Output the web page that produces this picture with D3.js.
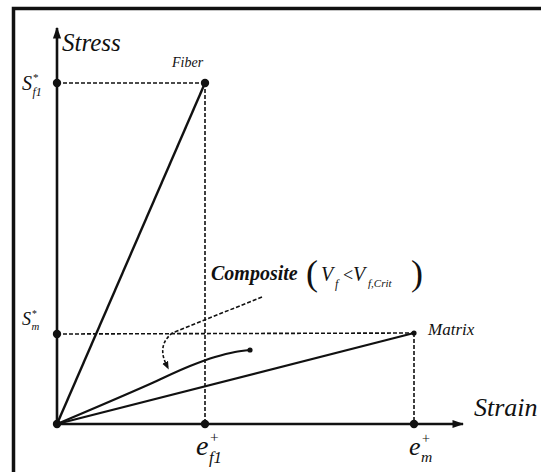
<!DOCTYPE html>
<html>
<head>
<meta charset="utf-8">
<script src="https://cdn.jsdelivr.net/npm/d3@7"></script>
<style>
  html, body { margin: 0; padding: 0; background: #fff; }
  svg { display: block; }
</style>
</head>
<body>
<svg id="chart" width="541" height="472"></svg>
<script>
// Stress–strain sketch of fibre, matrix and composite (arbitrary units)
const strainDomain = [0, 4.06];
const stressDomain = [0, 3.96];

// characteristic points
const strainMarks = [1.48, 3.57];        // e*_f1, e*_m
const stressMarks = [3.41, 0.90];        // S*_f1, S*_m

// straight-line responses
const fiberStrain = [0, 1.48];
const fiberStress = [0, 3.41];
const matrixStrain = [0, 3.57];
const matrixStress = [0, 0.91];

// composite response (V_f < V_f,Crit)
const compositeStrain = [0, 0.93, 1.33, 1.58, 1.78, 1.93];
const compositeStress = [0, 0.40, 0.58, 0.67, 0.72, 0.74];

// leader from the composite label to its curve
const leaderStrain = [2.05, 1.15];
const leaderStress = [1.27, 0.91];
const hookStrain = [1.15, 1.06, 1.05, 1.11];
const hookStress = [0.91, 0.82, 0.68, 0.56];

const serif = "Liberation Serif";

const svg = d3.select("#chart");
const x = d3.scaleLinear().domain(strainDomain).range([57, 463]);
const y = d3.scaleLinear().domain(stressDomain).range([424, 28]);

// frame
svg.append("rect")
  .attr("x", 13.5).attr("y", 8.5)
  .attr("width", 600).attr("height", 600)
  .attr("fill", "none").attr("stroke", "#111").attr("stroke-width", 3.5);

const defs = svg.append("defs");
defs.append("marker")
  .attr("id", "axisArrow").attr("viewBox", "0 0 10 10")
  .attr("refX", 9).attr("refY", 5)
  .attr("markerWidth", 4.5).attr("markerHeight", 4.5)
  .attr("markerUnits", "strokeWidth")
  .attr("orient", "auto")
  .append("path").attr("d", "M0,1.5 L10,5 L0,8.5 Z").attr("fill", "#111");
defs.append("marker")
  .attr("id", "hookArrow").attr("viewBox", "0 0 10 10")
  .attr("refX", 8).attr("refY", 5)
  .attr("markerWidth", 5).attr("markerHeight", 5)
  .attr("markerUnits", "strokeWidth")
  .attr("orient", "auto")
  .append("path").attr("d", "M0,1 L10,5 L0,9 Z").attr("fill", "#111");

// guide lines (dashed)
const dash = svg.append("g")
  .attr("stroke", "#111").attr("stroke-width", 1.6)
  .attr("stroke-dasharray", "4,2").attr("fill", "none");
dash.append("line")
  .attr("x1", x(0)).attr("y1", y(stressMarks[0]))
  .attr("x2", x(strainMarks[0])).attr("y2", y(stressMarks[0]));
dash.append("line")
  .attr("x1", x(strainMarks[0])).attr("y1", y(stressMarks[0]))
  .attr("x2", x(strainMarks[0])).attr("y2", y(0));
dash.append("line")
  .attr("x1", x(0)).attr("y1", y(stressMarks[1]))
  .attr("x2", x(strainMarks[1])).attr("y2", y(matrixStress[1]));
dash.append("line")
  .attr("x1", x(strainMarks[1])).attr("y1", y(matrixStress[1]))
  .attr("x2", x(strainMarks[1])).attr("y2", y(0));

// leader to composite curve
dash.append("line")
  .attr("x1", x(leaderStrain[0])).attr("y1", y(leaderStress[0]))
  .attr("x2", x(leaderStrain[1])).attr("y2", y(leaderStress[1]));
const hookLine = d3.line().x(d => x(d[0])).y(d => y(d[1])).curve(d3.curveBasis);
dash.append("path")
  .attr("d", hookLine(hookStrain.map((s, i) => [s, hookStress[i]])))
  .attr("stroke-dasharray", "3,2")
  .attr("marker-end", "url(#hookArrow)");

// axes
svg.append("line")
  .attr("x1", x(0)).attr("y1", y(0)).attr("x2", x(0)).attr("y2", y(stressDomain[1]))
  .attr("stroke", "#111").attr("stroke-width", 2.6)
  .attr("marker-end", "url(#axisArrow)");
svg.append("line")
  .attr("x1", x(0)).attr("y1", y(0)).attr("x2", x(strainDomain[1])).attr("y2", y(0))
  .attr("stroke", "#111").attr("stroke-width", 2.6)
  .attr("marker-end", "url(#axisArrow)");

// responses
const line = d3.line().x(d => x(d[0])).y(d => y(d[1]));
svg.append("path")
  .attr("d", line(fiberStrain.map((s, i) => [s, fiberStress[i]])))
  .attr("stroke", "#111").attr("stroke-width", 2.4).attr("fill", "none");
svg.append("path")
  .attr("d", line(matrixStrain.map((s, i) => [s, matrixStress[i]])))
  .attr("stroke", "#111").attr("stroke-width", 2.2).attr("fill", "none");
svg.append("path")
  .attr("d", line.curve(d3.curveMonotoneX)(compositeStrain.map((s, i) => [s, compositeStress[i]])))
  .attr("stroke", "#111").attr("stroke-width", 2.2).attr("fill", "none");

// dots
const bigDots = [
  [0, 0], [0, stressMarks[0]], [0, stressMarks[1]],
  [strainMarks[0], 0], [strainMarks[1], 0], [fiberStrain[1], fiberStress[1]]
];
svg.append("g").selectAll("circle").data(bigDots).join("circle")
  .attr("cx", d => x(d[0])).attr("cy", d => y(d[1])).attr("r", 4.2).attr("fill", "#111");
const smallDots = [
  [matrixStrain[1], matrixStress[1]],
  [compositeStrain[compositeStrain.length - 1], compositeStress[compositeStress.length - 1]]
];
svg.append("g").selectAll("circle").data(smallDots).join("circle")
  .attr("cx", d => x(d[0])).attr("cy", d => y(d[1])).attr("r", 2.6).attr("fill", "#111");

function txt(px, py, size, s, opts = {}) {
  return svg.append("text")
    .attr("x", px).attr("y", py)
    .attr("font-family", serif)
    .attr("font-size", size)
    .attr("fill", "#111")
    .attr("font-style", opts.upright ? "normal" : "italic")
    .attr("font-weight", opts.bold ? "bold" : "normal")
    .text(s);
}

// axis titles
txt(x(0) + 5, 51, 25, "Stress");
txt(474, 416, 26, "Strain");

// curve names
txt(x(fiberStrain[1]) - 33, 67, 14, "Fiber");
txt(x(matrixStrain[1]) + 14, y(matrixStress[1]) + 2, 17, "Matrix");

// marked values with super- and subscripts
function symbol(px, py, main, sup, sub, size) {
  const t = txt(px, py, size, main);
  const w = t.node().getComputedTextLength();
  txt(px + w + 0.5, py - size * 0.45, size * 0.55, sup);
  txt(px + w + 0.5, py + size * 0.28, size * 0.6, sub);
}
symbol(22, y(stressMarks[0]) + 7, "S", "*", "f1", 20);
symbol(22, y(stressMarks[1]) - 9, "S", "*", "m", 18);
symbol(x(strainMarks[0]) - 9, 455, "e", "+", "f1", 28);
symbol(x(strainMarks[1]) - 5, 455, "e", "+", "m", 26);

// composite label
txt(211, 280, 20, "Composite", { bold: true });
txt(306, 285, 36, "(", { upright: true });
txt(321, 281, 20, "V");
txt(335, 288, 12, "f");
txt(343, 281, 18, "<", { upright: true });
txt(353, 281, 20, "V");
txt(368, 287, 11, "f,Crit");
txt(411, 285, 36, ")", { upright: true });
</script>
</body>
</html>
